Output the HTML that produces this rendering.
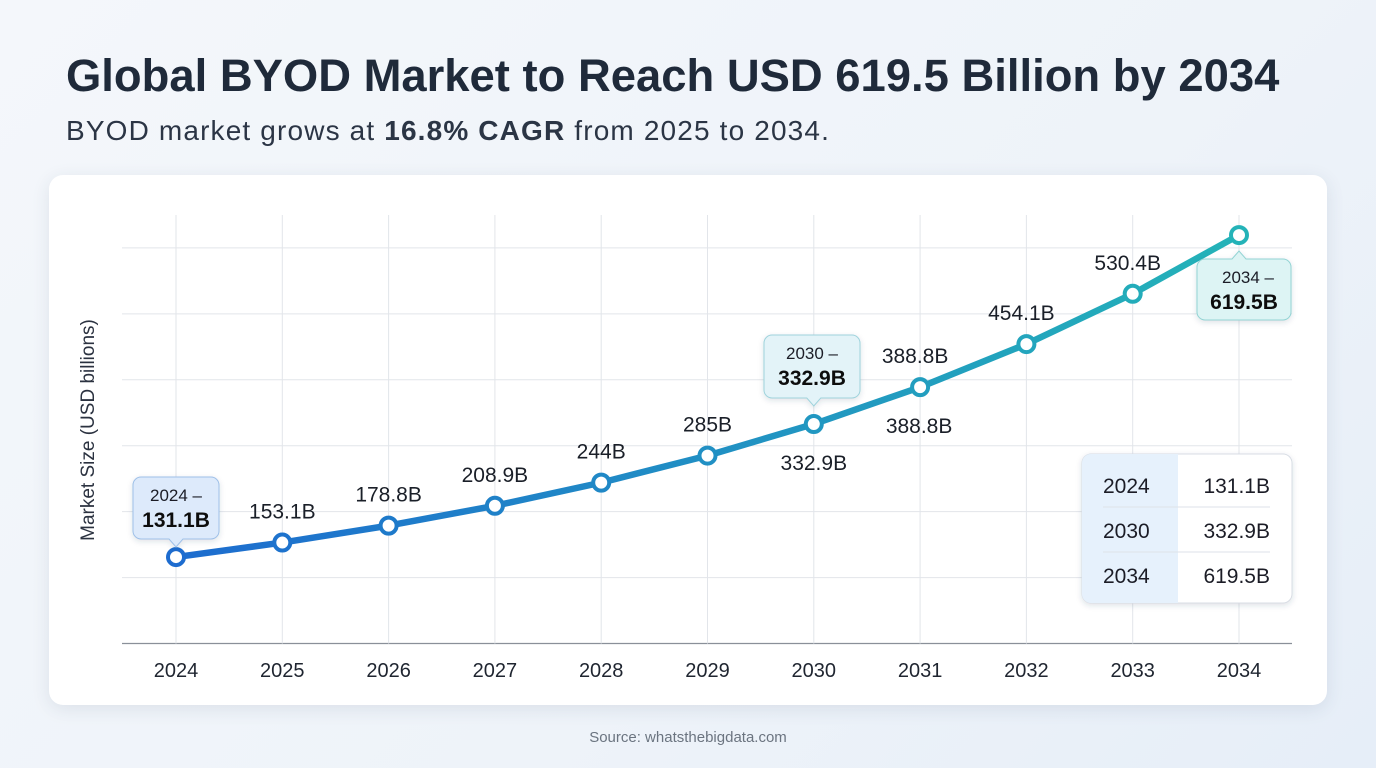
<!DOCTYPE html>
<html><head><meta charset="utf-8">
<style>
body{margin:0;width:1376px;height:768px;overflow:hidden;background:linear-gradient(135deg,#f4f7fb 0%,#eef3f9 60%,#e6eef8 100%);font-family:"Liberation Sans",sans-serif;position:relative}
h1{position:absolute;left:66px;top:50px;margin:0;font-size:45.4px;font-weight:700;color:#1f2a3a;letter-spacing:0px}
.sub{position:absolute;left:66px;top:115px;font-size:28px;color:#2b3545;letter-spacing:1.15px}
.card{position:absolute;left:49px;top:175px;width:1278px;height:530px;background:#fff;border-radius:14px;box-shadow:0 4px 18px rgba(40,60,90,.10)}
.src{position:absolute;left:0;width:1376px;top:729px;text-align:center;font-size:15px;color:#6b7480}
svg{position:absolute;left:0;top:0}
</style></head><body>
<h1>Global BYOD Market to Reach USD 619.5 Billion by 2034</h1>
<div class="sub">BYOD market grows at <b>16.8% CAGR</b> from 2025 to 2034.</div>
<div class="card"></div>
<svg id="chart" width="1376" height="768">
<defs>
<linearGradient id="lg" x1="176" y1="0" x2="1239" y2="0" gradientUnits="userSpaceOnUse"><stop offset="0" stop-color="#1d6ccf"/><stop offset="1" stop-color="#24b3b8"/></linearGradient>
<filter id="sh" x="-20%" y="-20%" width="140%" height="150%"><feDropShadow dx="0" dy="2" stdDeviation="3" flood-color="#2a4060" flood-opacity="0.15"/></filter>
</defs>
</svg>
<div class="src">Source: whatsthebigdata.com</div>
<script>
const years=["2024","2025","2026","2027","2028","2029","2030","2031","2032","2033","2034"];
const values=[131.1,153.1,178.8,208.9,244,285,332.9,388.8,454.1,530.4,619.5];
const valueLabels=["131.1B","153.1B","178.8B","208.9B","244B","285B","332.9B","388.8B","454.1B","530.4B","619.5B"];
const yTicks=[0,100,200,300,400,500,600];
const NS="http://www.w3.org/2000/svg";
const svg=document.getElementById('chart');
const x0=176,x1=1239;
const X=i=>x0+(x1-x0)*i/(years.length-1);
const Y=v=>643.5-v*0.6593;
function el(t,a,p){const e=document.createElementNS(NS,t);for(const k in a)e.setAttribute(k,a[k]);(p||svg).appendChild(e);return e;}
function txt(s,x,y,a,p){const e=el('text',Object.assign({x:x,y:y,'font-family':'Liberation Sans, sans-serif'},a),p);e.textContent=s;return e;}
yTicks.forEach((t,i)=>{const l=el('line',{x1:122,x2:1292,y1:Y(t),y2:Y(t),stroke:i==0?'#8a9099':'#e2e5ea','stroke-width':i==0?1.3:1});

});
years.forEach((yr,i)=>{const l=el('line',{x1:X(i),x2:X(i),y1:215,y2:Y(0),stroke:'#e2e5ea'});


const t=txt(yr,X(i),677,{'font-size':20,'text-anchor':'middle',fill:'#1f2530'});

});
const yt=txt('Market Size (USD billions)',0,0,{'font-size':19,'text-anchor':'middle',fill:'#2b3240',transform:'translate(94,430) rotate(-90)'});


const pl=el('polyline',{points:values.map((v,i)=>X(i)+','+Y(v)).join(' '),fill:'none',stroke:'url(#lg)','stroke-width':6.5,'stroke-linejoin':'round','stroke-linecap':'round'});


const cols=values.map((v,i)=>{const f=i/(values.length-1);const a=[29,108,207],b=[36,179,184];return 'rgb('+a.map((c,k)=>Math.round(c+(b[k]-c)*f)).join(',')+')';});
values.forEach((v,i)=>{const c=el('circle',{cx:X(i),cy:Y(v),r:8,fill:'#fff',stroke:cols[i],'stroke-width':4});

});
values.forEach((v,i)=>{if(i==0||i==6||i==10)return;
const dx=(i>=7)?-5:0;
const t=txt(valueLabels[i],X(i)+dx,Y(v)-24,{'font-size':21,'text-anchor':'middle',fill:'#1a1f28'});

});
[6,7].forEach(i=>{const t=txt(valueLabels[i],X(i)+(i==7?-1:0),Y(values[i])+46,{'font-size':21,'text-anchor':'middle',fill:'#1a1f28'});

});
function callout(i,bx,by,w,h,fill,stroke){const g=el('g',{filter:'url(#sh)'});


const px=X(i);
el('path',{d:`M${bx+8},${by} h${w-16} a8,8 0 0 1 8,8 v${h-16} a8,8 0 0 1 -8,8 H${px+7} l-7,8 l-7,-8 H${bx+8} a8,8 0 0 1 -8,-8 v${-(h-16)} a8,8 0 0 1 8,-8z`,fill:fill,stroke:stroke,'stroke-width':1},g);
txt(years[i]+' –',bx+w/2,by+24,{'font-size':17,'text-anchor':'middle',fill:'#1a1f28'},g);
txt(valueLabels[i],bx+w/2,by+50,{'font-size':21,'font-weight':700,'text-anchor':'middle',fill:'#111'},g);}
callout(0,133,477,86,62,'#ddeafb','#9ec0e8');
callout(6,764,335,96,63,'#e3f3f8','#9fd3dc');
(function(){const i=10,bx=1197,by=259,w=94,h=61;const g=el('g',{filter:'url(#sh)'});


const px=X(i);
el('path',{d:`M${bx+8},${by} H${px-7} l7,-8 l7,8 H${bx+w-8} a8,8 0 0 1 8,8 v${h-16} a8,8 0 0 1 -8,8 H${bx+8} a8,8 0 0 1 -8,-8 v${-(h-16)} a8,8 0 0 1 8,-8z`,fill:'#ddf4f4',stroke:'#93d4d4','stroke-width':1},g);
txt('2034 –',bx+w/2+4,by+24,{'font-size':17,'text-anchor':'middle',fill:'#1a1f28'},g);
txt(valueLabels[i],bx+w/2,by+50,{'font-size':21,'font-weight':700,'text-anchor':'middle',fill:'#111'},g);})();
const tIdx=[0,6,10];
const tg=el('g',{filter:'url(#sh)'});


el('rect',{x:1082,y:454,width:210,height:149,rx:9,fill:'#fff',stroke:'#d8dde4'},tg);
el('path',{d:'M1091,454 H1178 V603 H1091 a9,9 0 0 1 -9,-9 V463 a9,9 0 0 1 9,-9z',fill:'#e6f1fc'},tg);
tIdx.forEach((i,r)=>{const cy=485+r*45;
txt(years[i],1103,cy+8,{'font-size':21,fill:'#1a1f28'},tg);
txt(valueLabels[i],1270,cy+8,{'font-size':21,'text-anchor':'end',fill:'#1a1f28'},tg);
if(r<2)el('line',{x1:1103,x2:1270,y1:cy+22,y2:cy+22,stroke:'#dde2e8'},tg);});
</script>
</body></html>
